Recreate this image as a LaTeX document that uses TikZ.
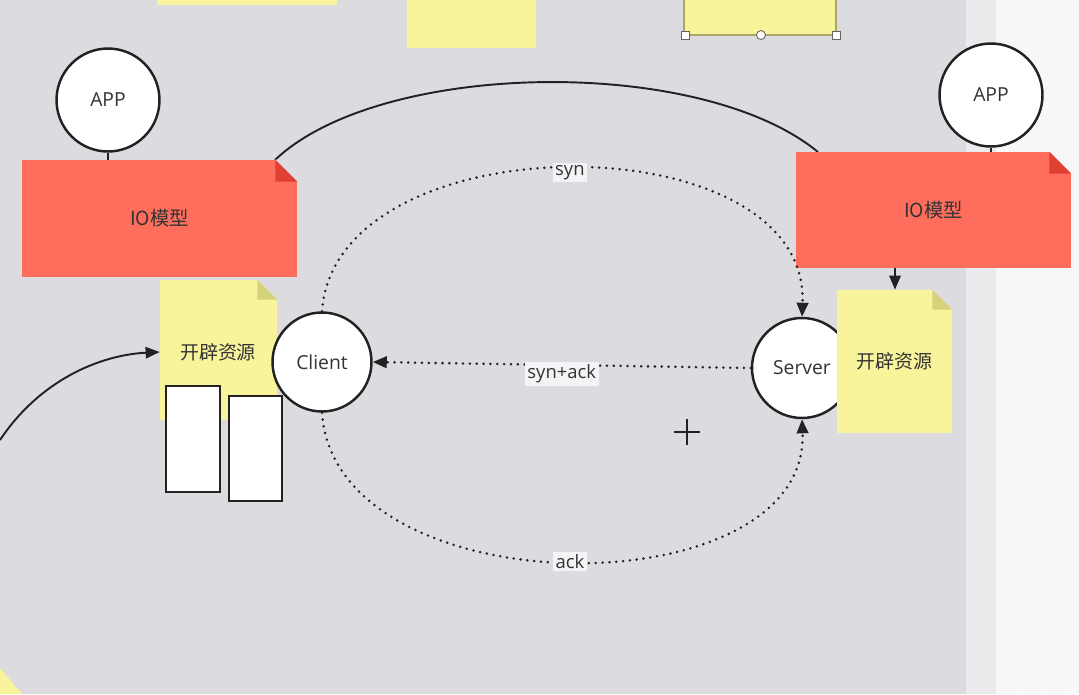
\documentclass[tikz,border=0pt]{standalone}
\usepackage{fontspec}
\setmainfont{Open Sans}
\newfontfamily\cjk{Noto Sans CJK SC}
\usetikzlibrary{arrows.meta}
\definecolor{bg}{HTML}{DCDCE0}
\definecolor{strip}{HTML}{EBEBEE}
\definecolor{paper}{HTML}{F7F7F8}
\definecolor{notered}{HTML}{FF6E5C}
\definecolor{foldred}{HTML}{E0402F}
\definecolor{noteyel}{HTML}{F7F49C}
\definecolor{foldyel}{HTML}{D5D27A}
\definecolor{ink}{HTML}{222222}
\definecolor{txt}{HTML}{333333}
\tikzset{
  circ/.style={circle, draw=ink, line width=1.4pt, fill=white, inner sep=0pt, text=txt, font=\fontsize{11}{13}\selectfont},
  rednote/.style={rectangle, fill=notered, inner sep=0pt, minimum width=5.5cm, text=txt, font=\cjk\fontsize{11}{13}\selectfont},
  yelnote/.style={rectangle, fill=noteyel, inner sep=0pt, text=txt, font=\cjk\fontsize{10.8}{13}\selectfont},
  wbox/.style={rectangle, draw=ink, line width=1.2pt, fill=white, inner sep=0pt},
  solidcon/.style={draw=ink, line width=1.1pt},
  dotcon/.style={draw=ink, line width=1.6pt, dash pattern=on 0pt off 3.9pt, line cap=round},
  tip/.style={-{Triangle[length=8pt,width=6.5pt]}},
  lbl/.style={fill=white!70!bg, inner sep=1.5pt, text=txt, font=\fontsize{10.5}{12}\selectfont},
}
\begin{document}
\begin{tikzpicture}[x=0.02cm, y=-0.02cm]
\useasboundingbox (0,0) rectangle (1079,694);
% background
\fill[bg] (0,0) rectangle (966,694);
\fill[strip] (966,0) rectangle (996,694);
\fill[paper] (996,0) rectangle (1079,694);
\foreach \yy in {20,44,...,694} \draw[white!80!bg, line width=0.4pt] (1000,\yy) -- (1079,\yy);
\foreach \xx in {1020,1044,1068} \draw[white!80!bg, line width=0.4pt] (\xx,0) -- (\xx,694);
% top yellow notes
\fill[noteyel] (157,0) rectangle (337,5);
\fill[noteyel] (407,0) rectangle (536,48);
\draw[fill=noteyel, draw=foldyel!80!black, line width=0.6pt] (684,-2) rectangle (836,35);
\draw[fill=white, draw=ink!70, line width=0.5pt] (681,31) rectangle (689,39);
\draw[fill=white, draw=ink!70, line width=0.5pt] (832,31) rectangle (840,39);
\draw[fill=white, draw=ink!70, line width=0.5pt] (761,35) circle (4.5);
% bottom-left yellow corner
\fill[noteyel] (0,668) -- (22,694) -- (0,694) -- cycle;

% arc between red notes
\coordinate (arcL) at (275,160);
\coordinate (arcR) at (818,152);
\draw[solidcon] (arcL) .. controls (380,60) and (700,55) .. (arcR);

% APP circles
\node[circ, minimum size=2.06cm] (appL) at (108,100) {APP};
\node[circ, minimum size=2.06cm] (appR) at (991,95) {APP};

% red notes
\node[rednote, minimum height=2.34cm] (ioL) at (159.5,218.5) {IO模型};
\node[rednote, minimum height=2.32cm] (ioR) at (933.5,210) {IO模型};
\fill[bg] ([xshift=-0.44cm]ioL.north east) -- (ioL.north east) -- ([yshift=-0.44cm]ioL.north east) -- cycle;
\fill[paper] ([xshift=-0.44cm]ioR.north east) -- (ioR.north east) -- ([yshift=-0.44cm]ioR.north east) -- cycle;
\foreach \n in {ioL,ioR}{
  \fill[foldred] ([xshift=-0.44cm]\n.north east) -- ([xshift=-0.44cm,yshift=-0.44cm]\n.north east) -- ([yshift=-0.44cm]\n.north east) -- cycle;
}
\draw[solidcon] (appL.south) -- (appL.south |- ioL.north);
\draw[solidcon] (appR.south) -- (appR.south |- ioR.north);

% left yellow note
\node[yelnote, minimum width=2.34cm, minimum height=2.8cm] (resL) at (218.5,350) {};
\node[text=txt, font=\cjk\fontsize{10.8}{13}\selectfont] (resLt) at (218,352) {开辟资源};
\fill[bg] ([xshift=-0.4cm]resL.north east) -- (resL.north east) -- ([yshift=-0.4cm]resL.north east) -- cycle;
\fill[foldyel] ([xshift=-0.4cm]resL.north east) -- ([xshift=-0.4cm,yshift=-0.4cm]resL.north east) -- ([yshift=-0.4cm]resL.north east) -- cycle;

% white boxes
\node[wbox, minimum width=1.08cm, minimum height=2.12cm] (b1) at (193,439) {};
\node[wbox, minimum width=1.06cm, minimum height=2.1cm] (b2) at (255.5,448.5) {};

% client and server
\node[circ, minimum size=1.98cm] (client) at (322,362) {Client};
\node[circ, minimum size=2.0cm] (server) at (802,368) {Server};

% right yellow note (over server)
\node[yelnote, minimum width=2.3cm, minimum height=2.86cm] (resR) at (894.5,361.5) {开辟资源};
\fill[bg] ([xshift=-0.4cm]resR.north east) -- (resR.north east) -- ([yshift=-0.4cm]resR.north east) -- cycle;
\fill[foldyel] ([xshift=-0.4cm]resR.north east) -- ([xshift=-0.4cm,yshift=-0.4cm]resR.north east) -- ([yshift=-0.4cm]resR.north east) -- cycle;

% arrow io model -> resource
\draw[solidcon, tip] (ioR.south -| 895,0) -- (resR.north -| 895,0);

% handshake arrows
\draw[dotcon, tip] (client.north) .. controls (335,120) and (810,120) .. (server.north)
  node[lbl, pos=0.5, solid, yshift=-0.08cm] {syn};
\draw[dotcon, tip] (server.west) -- (client.east)
  node[lbl, pos=0.5, solid, yshift=-0.18cm] {syn+ack};
\draw[dotcon, tip] (client.south) .. controls (335,610) and (810,610) .. (server.south)
  node[lbl, pos=0.5, solid] {ack};

% left incoming curve
\coordinate (inStart) at (0,440);
\draw[solidcon, tip] (inStart) .. controls (40,380) and (100,355) .. (resL.west |- 0,352);

% plus sign (cursor)
\coordinate (plusC) at (687,432);
\draw[ink, line width=1.4pt] ([xshift=-0.26cm]plusC) -- ([xshift=0.26cm]plusC);
\draw[ink, line width=1.4pt] ([yshift=-0.26cm]plusC) -- ([yshift=0.26cm]plusC);
\end{tikzpicture}
\end{document}
